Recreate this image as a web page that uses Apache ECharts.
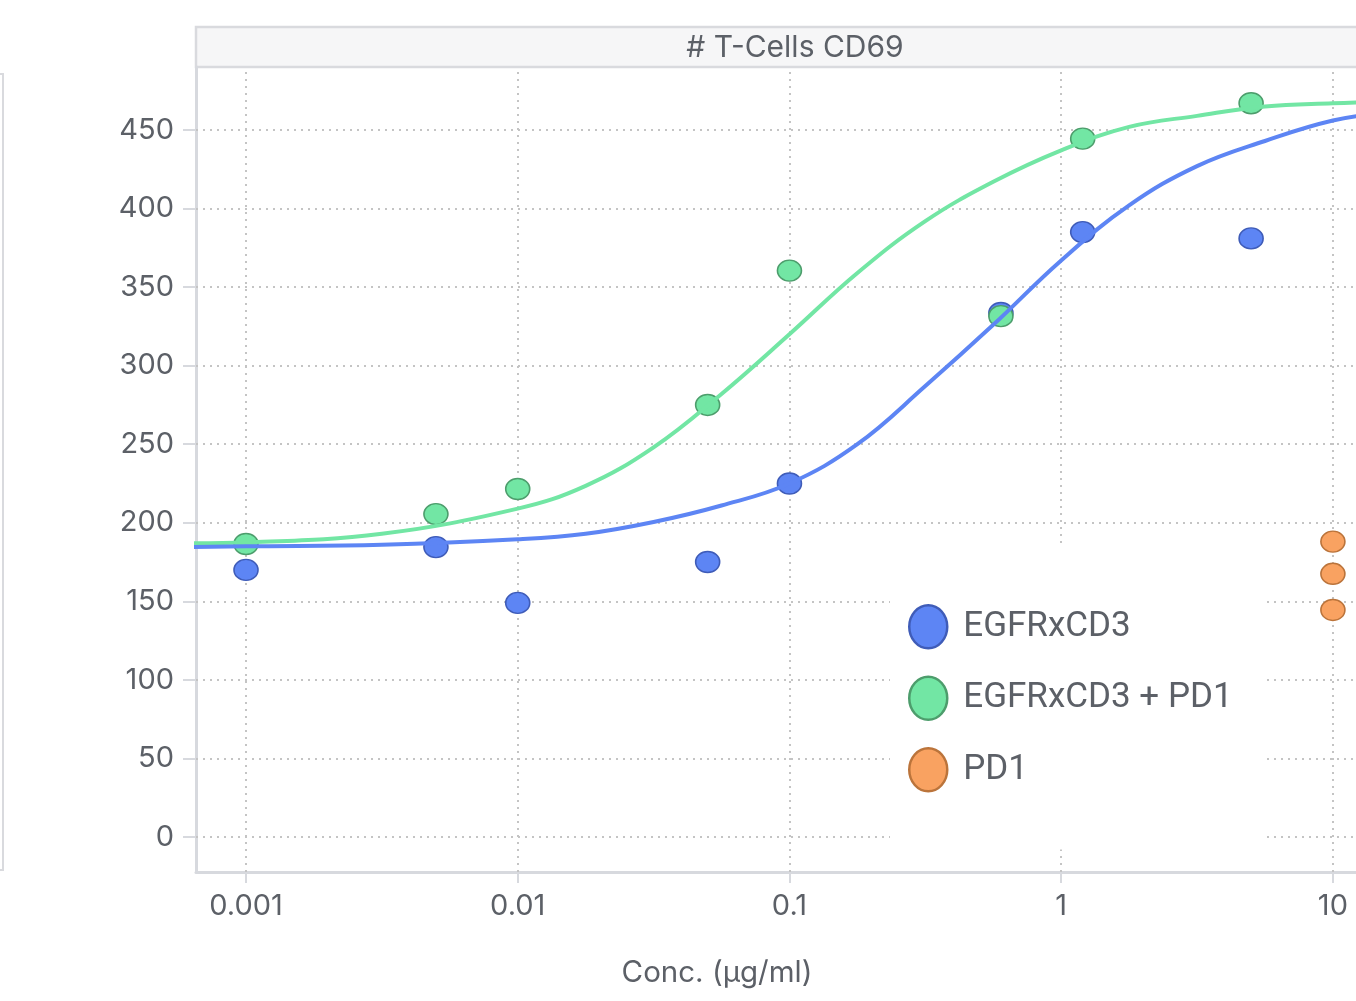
<!DOCTYPE html>
<html>
<head>
<meta charset="utf-8">
<title># T-Cells CD69</title>
<script src="https://cdn.jsdelivr.net/npm/echarts@6/dist/echarts.min.js"></script>
<style>
html, body { margin: 0; padding: 0; background: #fff; }
#chart { width: 1356px; height: 1001px; }
</style>
</head>
<body>
<div id="chart"></div>
<script>
// doses (µg/ml) and measured counts
const conc = [0.001, 0.005, 0.01, 0.05, 0.1, 0.6, 1.2, 5];
const egfrCd3 = [170, 184.5, 149, 175, 225, 333.5, 385, 381];
const egfrCd3Pd1 = [186.5, 205.5, 221.5, 275, 360.5, 331.5, 444.5, 467];
const pd1Conc = [10, 10, 10];
const pd1 = [188, 167.5, 144.5];

// fitted curves at log10(conc)
const fitLogConc = [-3.2, -3, -2.5, -2, -1.75, -1.5, -1.25, -1, -0.75, -0.5, -0.25, 0, 0.25, 0.5, 0.75, 1, 1.2];
const fitEgfrCd3 = [184.5, 185, 186, 189.5, 193, 200.5, 211, 225, 250, 287, 326, 367, 402, 427, 443, 456, 461];
const fitEgfrCd3Pd1 = [187, 187.5, 193, 209, 223.5, 248, 282, 320, 359, 392, 417, 437, 452, 459, 465, 467, 468];

const xTicks = [0.001, 0.01, 0.1, 1, 10];
const xTickLabels = ['0.001', '0.01', '0.1', '1', '10'];
const yTicks = [0, 50, 100, 150, 200, 250, 300, 350, 400, 450];

const BLUE = '#5d85f4', BLUE_EDGE = '#3f5cb8';
const GREEN = '#72e6a4', GREEN_EDGE = '#4d9d6c';
const ORANGE = '#f9a261', ORANGE_EDGE = '#bb743b';
const TEXT = '#5c6067';
const AXIS = '#d7d9de';
const FONT = "Inter, Roboto, sans-serif";
const DOT = 'path://M0,10A10,10,0,1,1,20,10A10,10,0,1,1,0,10Z';

const lg = v => Math.log10(v);
const pts = (xs, ys) => xs.map((x, i) => [lg(x), ys[i]]);
const fit = ys => fitLogConc.map((x, i) => [x, ys[i]]);

const chart = echarts.init(document.getElementById('chart'));

function scatter(name, data, fill, edge) {
    return {
        name: name,
        type: 'scatter',
        data: data,
        clip: false,
        symbol: DOT,
        symbolSize: [24, 21],
        itemStyle: { color: fill, borderColor: edge, borderWidth: 1.5, opacity: 1 },
        emphasis: { disabled: true }
    };
}

function curve(name, data, color) {
    return {
        name: name,
        type: 'line',
        data: data,
        smooth: 0.4,
        showSymbol: false,
        lineStyle: { color: color, width: 4 },
        emphasis: { disabled: true }
    };
}

chart.setOption({
    animation: false,
    grid: { left: 196, top: 67, width: 1160, height: 805 },
    xAxis: {
        type: 'value',
        min: -3.184,
        max: 1.085,
        axisLine: { show: true, onZero: false, lineStyle: { color: AXIS, width: 3 } },
        axisTick: { show: true, length: 11, customValues: xTicks.map(lg), lineStyle: { color: AXIS, width: 2 } },
        axisLabel: {
            customValues: xTicks.map(lg),
            margin: 20,
            fontSize: 29,
            fontFamily: FONT,
            color: TEXT,
            formatter: v => {
                const i = xTicks.findIndex(t => Math.abs(lg(t) - v) < 1e-6);
                return i < 0 ? '' : xTickLabels[i];
            }
        },
        splitLine: { show: false }
    },
    yAxis: {
        type: 'value',
        min: -22.3,
        max: 490.1,
        axisLine: { show: true, onZero: false, lineStyle: { color: AXIS, width: 3 } },
        axisTick: { show: true, length: 13, customValues: yTicks, lineStyle: { color: AXIS, width: 2 } },
        axisLabel: { customValues: yTicks, margin: 22, fontSize: 29, fontFamily: FONT, color: TEXT },
        splitLine: { show: false }
    },
    legend: {
        data: ['EGFRxCD3', 'EGFRxCD3 + PD1', 'PD1'],
        orient: 'vertical',
        left: 890,
        top: 547,
        padding: [57, 32, 57, 18],
        backgroundColor: '#fff',
        itemWidth: 38,
        itemHeight: 43,
        itemGap: 26,
        icon: DOT,
        symbolKeepAspect: false,
        itemStyle: { borderWidth: 2.5 },
        textStyle: { fontSize: 35, fontFamily: "'Liberation Sans Narrow', Roboto", color: TEXT, padding: [0, 0, 0, 11] },
        selectedMode: false
    },
    graphic: [
        {
            type: 'rect',
            shape: { x: 196, y: 27, width: 1200, height: 40 },
            style: { fill: '#f6f6f7', stroke: '#d9dade', lineWidth: 2.5 }
        },
        {
            type: 'text',
            x: 795, y: 48,
            style: { text: '# T-Cells CD69', font: '30px ' + FONT, fill: TEXT, align: 'center', verticalAlign: 'middle' }
        },
        {
            type: 'text',
            x: 717, y: 973,
            style: { text: 'Conc. (µg/ml)', font: '29.5px ' + FONT, fill: TEXT, align: 'center', verticalAlign: 'middle' }
        },
        {
            type: 'rect',
            shape: { x: -20, y: 74, width: 23, height: 796 },
            style: { fill: 'none', stroke: '#d9dade', lineWidth: 2 }
        }
    ],
    series: [
        {
            name: 'grid',
            type: 'scatter',
            data: [],
            silent: true,
            markLine: {
                silent: true,
                z: 1,
                symbol: ['none', 'none'],
                label: { show: false },
                emphasis: { disabled: true },
                lineStyle: { color: '#c4c4c4', type: [2, 5], width: 2 },
                data: xTicks.map(v => ({ xAxis: lg(v) })).concat(yTicks.map(v => ({ yAxis: v })))
            }
        },
        scatter('EGFRxCD3', pts(conc, egfrCd3), BLUE, BLUE_EDGE),
        curve('EGFRxCD3 + PD1 fit', fit(fitEgfrCd3Pd1), GREEN),
        scatter('EGFRxCD3 + PD1', pts(conc, egfrCd3Pd1), GREEN, GREEN_EDGE),
        curve('EGFRxCD3 fit', fit(fitEgfrCd3), BLUE),
        scatter('PD1', pts(pd1Conc, pd1), ORANGE, ORANGE_EDGE)
    ]
});
</script>
</body>
</html>
